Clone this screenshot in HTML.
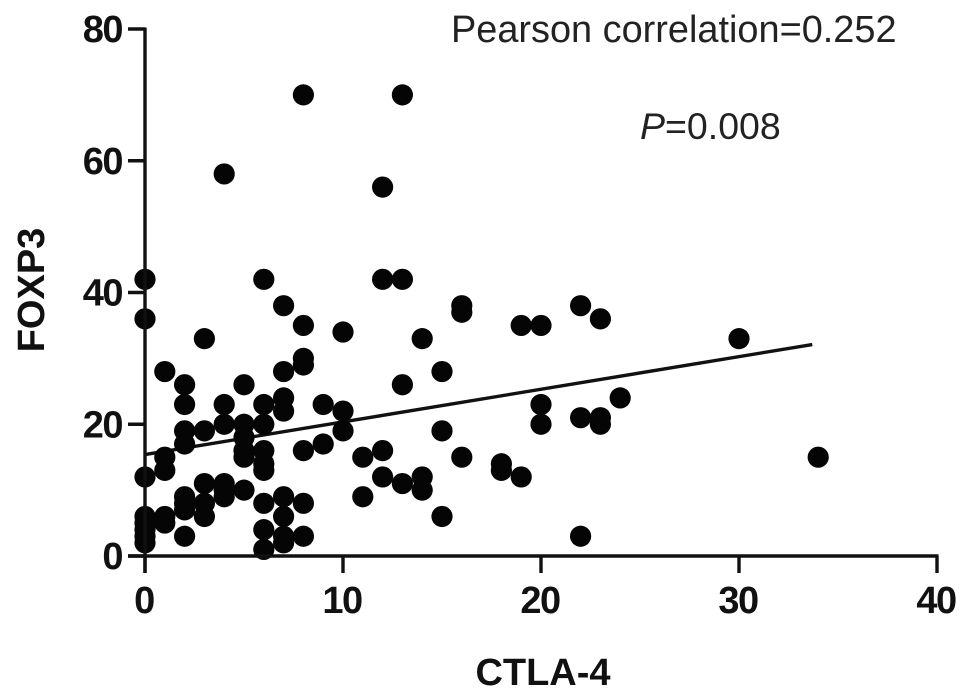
<!DOCTYPE html>
<html>
<head>
<meta charset="utf-8">
<style>
html,body{margin:0;padding:0;background:#fff;width:969px;height:697px;overflow:hidden}
svg{display:block;font-family:"Liberation Sans",Arial,sans-serif}
</style>
</head>
<body>
<svg id="chart" xmlns="http://www.w3.org/2000/svg" width="969" height="697" viewBox="0 0 969 697">
<g id="trend"></g>
<g id="points"></g>
<g id="axes"></g>
<text x="543" y="685" text-anchor="middle" font-size="38" font-weight="bold" fill="#111">CTLA-4</text>
<text x="0" y="0" transform="translate(44 290) rotate(-90)" text-anchor="middle" font-size="38" font-weight="bold" fill="#111">FOXP3</text>
<text x="451" y="42" font-size="37.9" fill="#222">Pearson correlation=0.252</text>
<text x="640" y="139" font-size="37.5" fill="#222"><tspan font-style="italic">P</tspan>=0.008</text>
</svg>
<script>
const xTicks = [0, 10, 20, 30, 40];
const yTicks = [0, 20, 40, 60, 80];
const xValues = [0,0,0,0,0,0,0,0,1,1,1,1,1,2,2,2,2,2,2,2,2,3,3,3,3,3,4,4,4,4,4,4,5,5,5,5,5,5,6,6,6,6,6,6,6,6,6,7,7,7,7,7,7,7,7,8,8,8,8,8,8,8,9,9,10,10,10,11,11,12,12,12,12,13,13,13,13,14,14,14,15,15,15,16,16,16,18,18,19,19,20,20,20,22,22,22,23,23,23,24,30,34];
const yValues = [42,36,12,6,5,4,3,2,28,15,13,6,5,26,23,19,17,9,8,7,3,33,19,11,8,6,58,23,20,11,10,9,26,20,18,16,15,10,42,23,20,16,14,13,8,4,1,38,28,24,22,9,6,3,2,70,35,30,29,16,8,3,23,17,34,22,19,15,9,56,42,16,12,70,42,26,11,33,12,10,28,19,6,38,37,15,14,13,35,12,35,23,20,38,21,3,36,21,20,24,33,15];
const trendX = [0, 33.7];
const trendY = [15.4, 32.1];

const NS = 'http://www.w3.org/2000/svg';
function sx(v){ return 145 + v * (937 - 145) / 40; }
function sy(v){ return 556 - v * (556 - 29) / 80; }
function make(tag, attrs, parent){
  const el = document.createElementNS(NS, tag);
  for (const k in attrs) el.setAttribute(k, attrs[k]);
  parent.appendChild(el);
  return el;
}
const axes = document.getElementById('axes');
const xAxis = make('line', {x1: sx(0) - 17, x2: sx(40) + 1.5, y1: sy(0), y2: sy(0), stroke: '#111', 'stroke-width': 3.4}, axes);


const yAxis = make('line', {x1: sx(0), x2: sx(0), y1: sy(80) - 1.5, y2: sy(0) + 17, stroke: '#111', 'stroke-width': 3.4}, axes);



xTicks.forEach(function(t){
  const tick = make('line', {x1: sx(t), x2: sx(t), y1: sy(0), y2: sy(0) + 17, stroke: '#111', 'stroke-width': 3.4}, axes);
  
  
  const label = make('text', {x: sx(t) - 1, y: 613, 'text-anchor': 'middle', 'font-size': 38, 'font-weight': 'bold', 'letter-spacing': -1.5, fill: '#111'}, axes);
  label.textContent = t;
  
  
});
yTicks.forEach(function(t){
  const tick = make('line', {x1: sx(0) - 17, x2: sx(0), y1: sy(t), y2: sy(t), stroke: '#111', 'stroke-width': 3.4}, axes);
  
  
  const label = make('text', {x: 122, y: sy(t) + 13, 'text-anchor': 'end', 'font-size': 38, 'font-weight': 'bold', 'letter-spacing': -1.5, fill: '#111'}, axes);
  label.textContent = t;
  
  
});

const trendLine = make('line', {x1: sx(trendX[0]), y1: sy(trendY[0]), x2: sx(trendX[1]), y2: sy(trendY[1]), stroke: '#111', 'stroke-width': 3.4}, document.getElementById('trend'));



const points = document.getElementById('points');
xValues.forEach(function(x, i){
  const dot = make('circle', {cx: sx(x), cy: sy(yValues[i]), r: 10.6, fill: '#050505'}, points);
  
  
});
</script>
</body>
</html>
